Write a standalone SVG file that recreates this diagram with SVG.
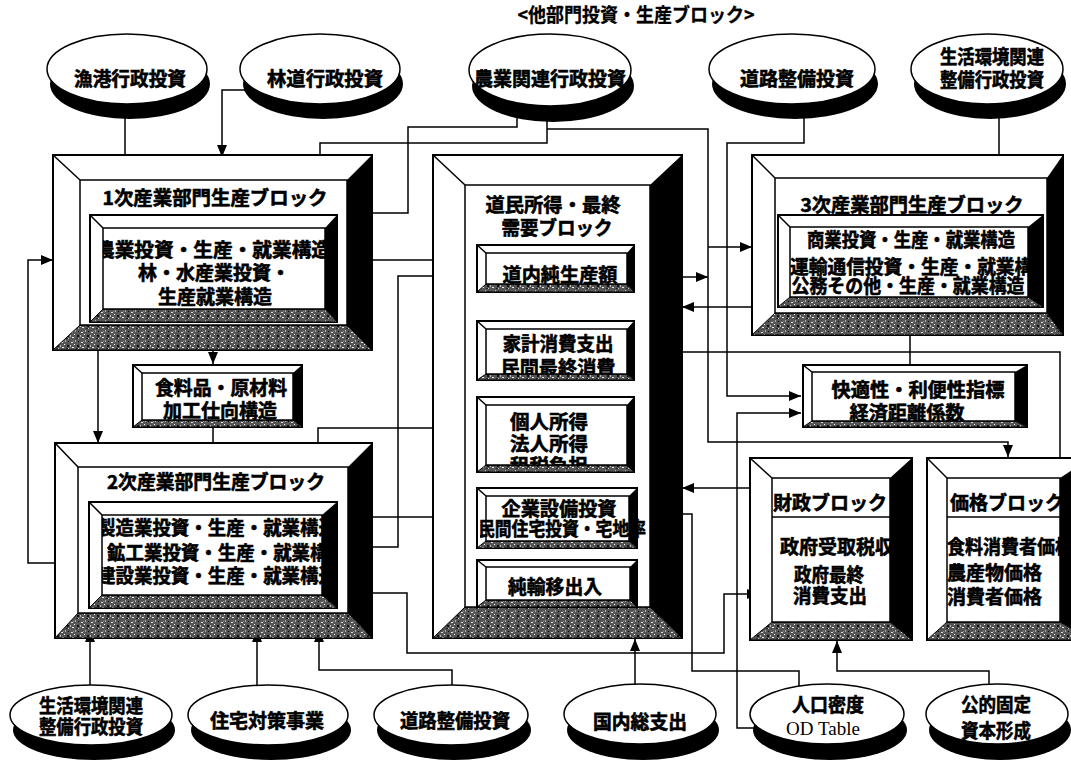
<svg xmlns="http://www.w3.org/2000/svg" width="1071" height="764" viewBox="0 0 1071 764">
<style>
.t{font-family:"Noto Sans CJK JP","Noto Sans CJK SC",sans-serif;font-weight:bold;fill:#000;stroke:#000;stroke-width:0.6;font-size:19px}
.m{text-anchor:middle}
.bx{fill:#fff;stroke:#000;stroke-width:2}
.bx1{fill:#fff;stroke:#000;stroke-width:1.5}
.tx{fill:url(#tex);stroke:#000;stroke-width:1}
.dg{stroke:#000;stroke-width:1.5}
.ln{fill:none;stroke:#000;stroke-width:1.5}
.ar{marker-end:url(#ah)}
.sh{fill:#000}
.el{fill:#fff;stroke:#000;stroke-width:1.5}
</style>
<defs>
<marker id="ah" viewBox="0 0 12 10" refX="12" refY="5" markerWidth="12" markerHeight="10" markerUnits="userSpaceOnUse" orient="auto"><path d="M0,0 L12,5 L0,10 z" fill="#000"/></marker>
<pattern id="tex" width="10" height="10" patternUnits="userSpaceOnUse"><rect width="10" height="10" fill="#555"/><rect x="1" y="2" width="2" height="1" fill="#ddd"/><rect x="5" y="0" width="1" height="2" fill="#aaa"/><rect x="7" y="5" width="2" height="2" fill="#111"/><rect x="2" y="7" width="2" height="1" fill="#eee"/><rect x="4" y="4" width="1" height="1" fill="#fff"/><rect x="8" y="1" width="1" height="1" fill="#000"/><rect x="0" y="5" width="1" height="2" fill="#bbb"/><rect x="6" y="8" width="2" height="1" fill="#222"/><rect x="3" y="1" width="1" height="1" fill="#888"/><rect x="8" y="8" width="1" height="1" fill="#ccc"/></pattern>
<clipPath id="c1"><rect x="103" y="228" width="222" height="81"/></clipPath>
<clipPath id="c2"><rect x="102" y="515" width="220" height="80"/></clipPath>
<clipPath id="c3"><rect x="790" y="227" width="238" height="70"/></clipPath>
<clipPath id="cf"><rect x="142" y="373" width="151" height="47"/></clipPath>
<clipPath id="ck"><rect x="486" y="329" width="141" height="45"/></clipPath>
<clipPath id="cp"><rect x="486" y="405" width="141" height="60"/></clipPath>
<clipPath id="ce"><rect x="480" y="496" width="170" height="45"/></clipPath>
<clipPath id="cv"><rect x="812" y="372" width="203" height="49"/></clipPath>
<clipPath id="cz"><rect x="772" y="478" width="118" height="144"/></clipPath>
<clipPath id="cg"><rect x="947" y="478" width="113" height="144"/></clipPath>
</defs>
<rect width="1071" height="764" fill="#fff"/>
<text class="t m" x="636" y="22" font-size="17" style="stroke-width:0.3" textLength="237" lengthAdjust="spacingAndGlyphs">&lt;他部門投資・生産ブロック&gt;</text>

<g id="connectors">
<path class="ln ar" d="M125,90 V168"/>
<path class="ln ar" d="M260,90 H222 V157"/>
<path class="ln ar" d="M547,100 V143 H320 V168"/>
<path class="ln ar" d="M547,129 H708 V442 H1008 V457"/>
<path class="ln" d="M517,112 V127 H408 V213 H373"/>
<path class="ln ar" d="M804,100 V143 H727 V396 H801"/>
<path class="ln ar" d="M999,100 V168"/>
<path class="ln ar" d="M373,260 H477"/>
<path class="ln ar" d="M373,547 H398 V276 H477"/>
<path class="ln ar" d="M55,563 H28 V260 H53"/>
<path class="ln ar" d="M213,322 V364"/>
<path class="ln ar" d="M213,427 V457"/>
<path class="ln ar" d="M98,350 V443"/>
<path class="ln ar" d="M318,443 V428 H477"/>
<path class="ln ar" d="M373,517 H477"/>
<path class="ln ar" d="M373,593 H407 V653 H724 V594 H759"/>
<path class="ln ar" d="M634,277 H708"/>
<path class="ln ar" d="M708,247 H752"/>
<path class="ln ar" d="M752,307 H682"/>
<path class="ln ar" d="M1060,458 V352 H635"/>
<path class="ln ar" d="M910,365 V307"/>
<path class="ln ar" d="M760,728 H737 V413 H801"/>
<path class="ln ar" d="M750,488 H682"/>
<path class="ln ar" d="M799,700 V671 H692 V514 H640"/>
<path class="ln ar" d="M635,700 V639"/>
<path class="ln ar" d="M989,700 V671 H837 V641"/>
<path class="ln ar" d="M90,700 V630"/>
<path class="ln ar" d="M257,700 V630"/>
<path class="ln ar" d="M452,700 V670 H319 V630"/>
<path class="ln ar" d="M548,397 V381"/>
<path class="ln ar" d="M557,472 V488"/>
</g>

<g id="e-gyoko">
<ellipse class="sh" cx="130" cy="84" rx="80" ry="35"/>
<ellipse class="el" cx="127" cy="69" rx="80" ry="35"/>
<text class="t m" x="130" y="86" textLength="112" lengthAdjust="spacingAndGlyphs">漁港行政投資</text>
</g>
<g id="e-rindo">
<ellipse class="sh" cx="323" cy="84" rx="80" ry="35"/>
<ellipse class="el" cx="320" cy="69" rx="80" ry="35"/>
<text class="t m" x="325" y="86" textLength="116" lengthAdjust="spacingAndGlyphs">林道行政投資</text>
</g>
<g id="e-nogyo">
<ellipse class="sh" cx="553" cy="86" rx="81" ry="36"/>
<ellipse class="el" cx="550" cy="70" rx="81" ry="36"/>
<text class="t m" x="550" y="86" textLength="152" lengthAdjust="spacingAndGlyphs">農業関連行政投資</text>
</g>
<g id="e-doro1">
<ellipse class="sh" cx="795" cy="84" rx="83" ry="35"/>
<ellipse class="el" cx="792" cy="69" rx="83" ry="35"/>
<text class="t m" x="797" y="86" textLength="114" lengthAdjust="spacingAndGlyphs">道路整備投資</text>
</g>
<g id="e-seikatsu1">
<ellipse class="sh" cx="990" cy="84" rx="76" ry="35"/>
<ellipse class="el" cx="987" cy="69" rx="76" ry="35"/>
<text class="t m" x="992" y="64" font-size="18" textLength="104" lengthAdjust="spacingAndGlyphs">生活環境関連</text>
<text class="t m" x="992" y="87" font-size="18" textLength="104" lengthAdjust="spacingAndGlyphs">整備行政投資</text>
</g>

<g id="block1">
<rect x="53" y="155" width="319" height="195" class="bx"/>
<polygon points="347,180 372,155 372,350 347,325" fill="#000"/>
<polygon points="53,350 80,325 347,325 372,350" class="tx"/>
<line x1="53" y1="155" x2="80" y2="180" class="dg"/>
<rect x="80" y="180" width="267" height="145" class="bx1"/>
<text class="t m" x="215" y="205" font-size="18" textLength="225" lengthAdjust="spacingAndGlyphs">1次産業部門生産ブロック</text>
<rect x="90" y="215" width="247" height="107" class="bx"/>
<polygon points="325,228 337,215 337,322 325,309" fill="#000"/>
<polygon points="90,322 103,309 325,309 337,322" class="tx"/>
<line x1="90" y1="215" x2="103" y2="228" class="dg"/>
<rect x="103" y="228" width="222" height="81" class="bx1"/>
<g clip-path="url(#c1)">
<text class="t m" x="213" y="257" textLength="236" lengthAdjust="spacingAndGlyphs">農業投資・生産・就業構造</text>
<text class="t m" x="214" y="280" textLength="152" lengthAdjust="spacingAndGlyphs">林・水産業投資・</text>
<text class="t m" x="215" y="304" textLength="114" lengthAdjust="spacingAndGlyphs">生産就業構造</text>
</g>
</g>

<g id="shokuryo">
<rect x="133" y="365" width="169" height="62" class="bx"/>
<polygon points="293,373 302,365 302,427 293,420" fill="#000"/>
<polygon points="133,427 142,420 293,420 302,427" class="tx"/>
<line x1="133" y1="365" x2="142" y2="373" class="dg"/>
<rect x="142" y="373" width="151" height="47" class="bx1"/>
<g clip-path="url(#cf)">
<text class="t m" x="221" y="395" textLength="132" lengthAdjust="spacingAndGlyphs">食料品・原材料</text>
<text class="t m" x="220" y="418" textLength="114" lengthAdjust="spacingAndGlyphs">加工仕向構造</text>
</g>
</g>

<g id="block2">
<rect x="55" y="443" width="317" height="195" class="bx"/>
<polygon points="348,467 372,443 372,638 348,613" fill="#000"/>
<polygon points="55,638 78,613 348,613 372,638" class="tx"/>
<line x1="55" y1="443" x2="78" y2="467" class="dg"/>
<rect x="78" y="467" width="270" height="146" class="bx1"/>
<text class="t m" x="216" y="489" font-size="18" textLength="218" lengthAdjust="spacingAndGlyphs">2次産業部門生産ブロック</text>
<rect x="89" y="502" width="248" height="106" class="bx"/>
<polygon points="322,515 337,502 337,608 322,595" fill="#000"/>
<polygon points="89,608 102,595 322,595 337,608" class="tx"/>
<line x1="89" y1="502" x2="102" y2="515" class="dg"/>
<rect x="102" y="515" width="220" height="80" class="bx1"/>
<g clip-path="url(#c2)">
<text class="t" x="97" y="535" textLength="240" lengthAdjust="spacingAndGlyphs">製造業投資・生産・就業構造</text>
<text class="t" x="107" y="560" textLength="240" lengthAdjust="spacingAndGlyphs">鉱工業投資・生産・就業構造</text>
<text class="t" x="97" y="583" textLength="240" lengthAdjust="spacingAndGlyphs">建設業投資・生産・就業構造</text>
</g>
</g>

<g id="central">
<rect x="433" y="155" width="249" height="483" class="bx"/>
<polygon points="650,185 682,155 682,638 650,607" fill="#000"/>
<polygon points="433,638 465,607 650,607 682,638" class="tx"/>
<line x1="433" y1="155" x2="465" y2="185" class="dg"/>
<rect x="465" y="185" width="185" height="422" class="bx1"/>
<text class="t m" x="553" y="212" textLength="135" lengthAdjust="spacingAndGlyphs">道民所得・最終</text>
<text class="t m" x="557" y="235" textLength="111" lengthAdjust="spacingAndGlyphs">需要ブロック</text>
</g>
<g id="donai">
<rect x="477" y="245" width="157" height="47" class="bx"/>
<polygon points="627,253 634,245 634,292 627,284" fill="#000"/>
<polygon points="477,292 486,284 627,284 634,292" class="tx"/>
<line x1="477" y1="245" x2="486" y2="253" class="dg"/>
<rect x="486" y="253" width="141" height="31" class="bx1"/>
<text class="t m" x="560" y="282" textLength="115" lengthAdjust="spacingAndGlyphs">道内純生産額</text>
</g>
<g id="kakei">
<rect x="477" y="321" width="157" height="59" class="bx"/>
<polygon points="627,329 634,321 634,380 627,374" fill="#000"/>
<polygon points="477,380 486,374 627,374 634,380" class="tx"/>
<line x1="477" y1="321" x2="486" y2="329" class="dg"/>
<rect x="486" y="329" width="141" height="45" class="bx1"/>
<g clip-path="url(#ck)">
<text class="t m" x="558" y="351" font-size="18" textLength="111" lengthAdjust="spacingAndGlyphs">家計消費支出</text>
<text class="t m" x="558" y="375" font-size="18" textLength="115" lengthAdjust="spacingAndGlyphs">民間最終消費</text>
</g>
</g>
<g id="kojin">
<rect x="477" y="397" width="157" height="75" class="bx"/>
<polygon points="627,405 634,397 634,472 627,465" fill="#000"/>
<polygon points="477,472 486,465 627,465 634,472" class="tx"/>
<line x1="477" y1="397" x2="486" y2="405" class="dg"/>
<rect x="486" y="405" width="141" height="60" class="bx1"/>
<g clip-path="url(#cp)">
<text class="t m" x="549" y="429" font-size="18" textLength="78" lengthAdjust="spacingAndGlyphs">個人所得</text>
<text class="t m" x="549" y="451" font-size="18" textLength="78" lengthAdjust="spacingAndGlyphs">法人所得</text>
<text class="t m" x="549" y="473" font-size="18" textLength="78" lengthAdjust="spacingAndGlyphs">租税負担</text>
</g>
</g>
<g id="kigyo">
<rect x="477" y="488" width="160" height="60" class="bx"/>
<polygon points="629,496 637,488 637,548 629,541" fill="#000"/>
<polygon points="477,548 486,541 629,541 637,548" class="tx"/>
<line x1="477" y1="488" x2="486" y2="496" class="dg"/>
<rect x="486" y="496" width="143" height="45" class="bx1"/>
<g clip-path="url(#ce)">
<text class="t m" x="559" y="516" font-size="18" textLength="115" lengthAdjust="spacingAndGlyphs">企業設備投資</text>
<text class="t m" x="562" y="536" font-size="17" textLength="168" lengthAdjust="spacingAndGlyphs">民間住宅投資・宅地率</text>
</g>
</g>
<g id="junyu">
<rect x="477" y="560" width="160" height="47" class="bx"/>
<polygon points="630,567 637,560 637,607 630,600" fill="#000"/>
<polygon points="477,607 486,600 630,600 637,607" class="tx"/>
<line x1="477" y1="560" x2="486" y2="567" class="dg"/>
<rect x="486" y="567" width="144" height="33" class="bx1"/>
<text class="t m" x="555" y="594" textLength="94" lengthAdjust="spacingAndGlyphs">純輸移出入</text>
</g>

<g id="block3">
<rect x="752" y="155" width="311" height="180" class="bx"/>
<polygon points="1047,178 1063,155 1063,335 1047,313" fill="#000"/>
<polygon points="752,335 775,313 1047,313 1063,335" class="tx"/>
<line x1="752" y1="155" x2="775" y2="178" class="dg"/>
<rect x="775" y="178" width="272" height="135" class="bx1"/>
<text class="t m" x="912" y="212" font-size="18" textLength="223" lengthAdjust="spacingAndGlyphs">3次産業部門生産ブロック</text>
<rect x="778" y="215" width="265" height="92" class="bx"/>
<polygon points="1028,227 1043,215 1043,307 1028,297" fill="#000"/>
<polygon points="778,307 790,297 1028,297 1043,307" class="tx"/>
<line x1="778" y1="215" x2="790" y2="227" class="dg"/>
<rect x="790" y="227" width="238" height="70" class="bx1"/>
<g clip-path="url(#c3)">
<text class="t m" x="911" y="247" font-size="18" textLength="208" lengthAdjust="spacingAndGlyphs">商業投資・生産・就業構造</text>
<text class="t" x="790" y="274" font-size="18" textLength="262" lengthAdjust="spacingAndGlyphs">運輸通信投資・生産・就業構造</text>
<text class="t m" x="908" y="293" font-size="18" textLength="233" lengthAdjust="spacingAndGlyphs">公務その他・生産・就業構造</text>
</g>
</g>

<g id="kaiteki">
<rect x="803" y="365" width="224" height="62" class="bx"/>
<polygon points="1015,372 1027,365 1027,427 1015,421" fill="#000"/>
<polygon points="803,427 812,421 1015,421 1027,427" class="tx"/>
<line x1="803" y1="365" x2="812" y2="372" class="dg"/>
<rect x="812" y="372" width="203" height="49" class="bx1"/>
<g clip-path="url(#cv)">
<text class="t m" x="918" y="397" textLength="173" lengthAdjust="spacingAndGlyphs">快適性・利便性指標</text>
<text class="t m" x="907" y="420" textLength="115" lengthAdjust="spacingAndGlyphs">経済距離係数</text>
</g>
</g>

<g id="zaisei">
<rect x="750" y="458" width="162" height="182" class="bx"/>
<polygon points="890,478 912,458 912,640 890,622" fill="#000"/>
<polygon points="750,640 772,622 890,622 912,640" class="tx"/>
<line x1="750" y1="458" x2="772" y2="478" class="dg"/>
<rect x="772" y="478" width="118" height="144" class="bx1"/>
<line x1="772" y1="517" x2="890" y2="517" class="dg"/>
<g clip-path="url(#cz)">
<text class="t m" x="830" y="510" textLength="114" lengthAdjust="spacingAndGlyphs">財政ブロック</text>
<text class="t" x="780" y="554" textLength="114" lengthAdjust="spacingAndGlyphs">政府受取税収</text>
<text class="t m" x="829" y="582" textLength="70" lengthAdjust="spacingAndGlyphs">政府最終</text>
<text class="t m" x="830" y="603" textLength="74" lengthAdjust="spacingAndGlyphs">消費支出</text>
</g>
</g>

<g id="kakaku">
<rect x="927" y="458" width="163" height="182" class="bx"/>
<polygon points="1060,478 1090,458 1090,640 1060,622" fill="#000"/>
<polygon points="927,640 947,622 1060,622 1090,640" class="tx"/>
<line x1="927" y1="458" x2="947" y2="478" class="dg"/>
<rect x="947" y="478" width="113" height="144" class="bx1"/>
<line x1="947" y1="517" x2="1060" y2="517" class="dg"/>
<g clip-path="url(#cg)">
<text class="t" x="950" y="510" textLength="114" lengthAdjust="spacingAndGlyphs">価格ブロック</text>
<text class="t" x="947" y="554" textLength="126" lengthAdjust="spacingAndGlyphs">食料消費者価格</text>
<text class="t" x="947" y="580" textLength="95" lengthAdjust="spacingAndGlyphs">農産物価格</text>
<text class="t" x="947" y="604" textLength="95" lengthAdjust="spacingAndGlyphs">消費者価格</text>
</g>
</g>

<g id="e-seikatsu2">
<ellipse class="sh" cx="94" cy="730" rx="81" ry="30"/>
<ellipse class="el" cx="91" cy="715" rx="81" ry="30"/>
<text class="t m" x="91" y="713" font-size="17" textLength="104" lengthAdjust="spacingAndGlyphs">生活環境関連</text>
<text class="t m" x="91" y="734" font-size="17" textLength="104" lengthAdjust="spacingAndGlyphs">整備行政投資</text>
</g>
<g id="e-jutaku">
<ellipse class="sh" cx="271" cy="730" rx="80" ry="30"/>
<ellipse class="el" cx="268" cy="715" rx="80" ry="30"/>
<text class="t m" x="267" y="728" font-size="18" textLength="114" lengthAdjust="spacingAndGlyphs">住宅対策事業</text>
</g>
<g id="e-doro2">
<ellipse class="sh" cx="454" cy="730" rx="77" ry="30"/>
<ellipse class="el" cx="451" cy="715" rx="77" ry="30"/>
<text class="t m" x="455" y="728" font-size="18" textLength="110" lengthAdjust="spacingAndGlyphs">道路整備投資</text>
</g>
<g id="e-kokunai">
<ellipse class="sh" cx="643" cy="730" rx="76" ry="30"/>
<ellipse class="el" cx="640" cy="714" rx="76" ry="30"/>
<text class="t m" x="640" y="729" font-size="18" textLength="94" lengthAdjust="spacingAndGlyphs">国内総支出</text>
</g>
<g id="e-jinko">
<ellipse class="sh" cx="830" cy="730" rx="77" ry="30"/>
<ellipse class="el" cx="827" cy="714" rx="77" ry="30"/>
<text class="t m" x="828" y="712" font-size="17" textLength="72" lengthAdjust="spacingAndGlyphs">人口密度</text>
<text x="823" y="735" text-anchor="middle" font-family="Liberation Serif, serif" font-size="19" fill="#000">OD Table</text>
</g>
<g id="e-koteki">
<ellipse class="sh" cx="1000" cy="730" rx="71" ry="30"/>
<ellipse class="el" cx="997" cy="714" rx="71" ry="30"/>
<text class="t m" x="996" y="712" font-size="17" textLength="70" lengthAdjust="spacingAndGlyphs">公的固定</text>
<text class="t m" x="996" y="738" font-size="17" textLength="70" lengthAdjust="spacingAndGlyphs">資本形成</text>
</g>
</svg>
